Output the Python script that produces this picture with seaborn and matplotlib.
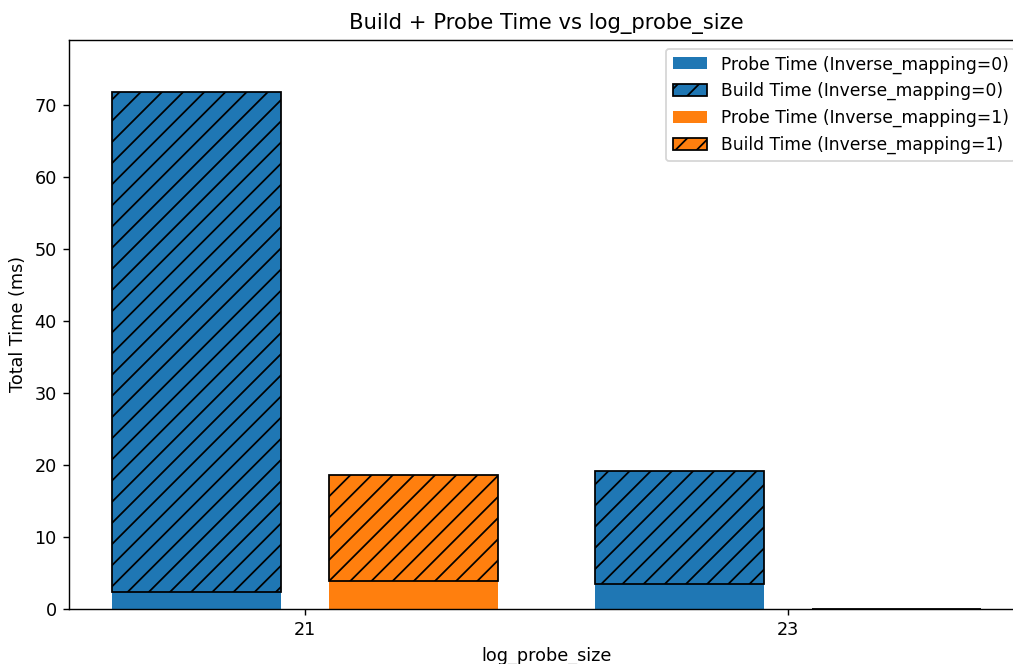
import numpy as np
import pandas as pd
import matplotlib
matplotlib.use('Agg')
import matplotlib.pyplot as plt
import matplotlib.patches as mpatches
import seaborn as sns

## Data (ms)
log_probe_size = [21, 23]
inverse_mapping = [0, 1]
probe_time_0 = [2.4, 3.5]
build_time_0 = [69.4, 15.7]
probe_time_1 = [3.9, 0.0]
build_time_1 = [14.7, 0.0]

colors = ['#1f77b4', '#ff7f0e']

df = pd.DataFrame({
    'log_probe_size': log_probe_size * 2,
    'Inverse_mapping': [0] * 2 + [1] * 2,
    'probe': probe_time_0 + probe_time_1,
    'build': build_time_0 + build_time_1,
})

DPI = 127
W, H = 1013, 664
fig = plt.figure(figsize=(W / DPI, H / DPI), dpi=DPI)
ax = fig.add_axes([69 / W, 55 / H, (1024 - 69) / W, (609 - 40) / H])

# probe time at the bottom, one dodged bar per mapping
sns.barplot(data=df, x='log_probe_size', y='probe', hue='Inverse_mapping',
            palette=colors, saturation=1, width=0.9, gap=0.222, linewidth=0,
            ax=ax, legend=False)

# build time stacked on top with hatch
bar_w = 0.35
offsets = [-0.225, 0.225]
xs = np.arange(len(log_probe_size))
for i, (probe, build) in enumerate([(probe_time_0, build_time_0), (probe_time_1, build_time_1)]):
    ax.bar(xs + offsets[i], build, width=bar_w, bottom=probe, color=colors[i],
           edgecolor='black', hatch='//')

totals = np.array(df['probe'] + df['build'])
ax.set_ylim(0, totals.max() * 1.1)
ax.set_xlim(-0.49, 1.49)

ax.set_title('Build + Probe Time vs log_probe_size')
ax.set_xlabel('log_probe_size')
ax.set_ylabel('Total Time (ms)')

handles = []
labels = []
for i, m in enumerate(inverse_mapping):
    handles.append(mpatches.Patch(facecolor=colors[i]))
    labels.append('Probe Time (Inverse_mapping=%d)' % m)
    handles.append(mpatches.Patch(facecolor=colors[i], edgecolor='black', hatch='//'))
    labels.append('Build Time (Inverse_mapping=%d)' % m)
ax.legend(handles, labels, loc='upper right', fontsize=9.7)

plt.savefig('out.png', dpi=DPI)
